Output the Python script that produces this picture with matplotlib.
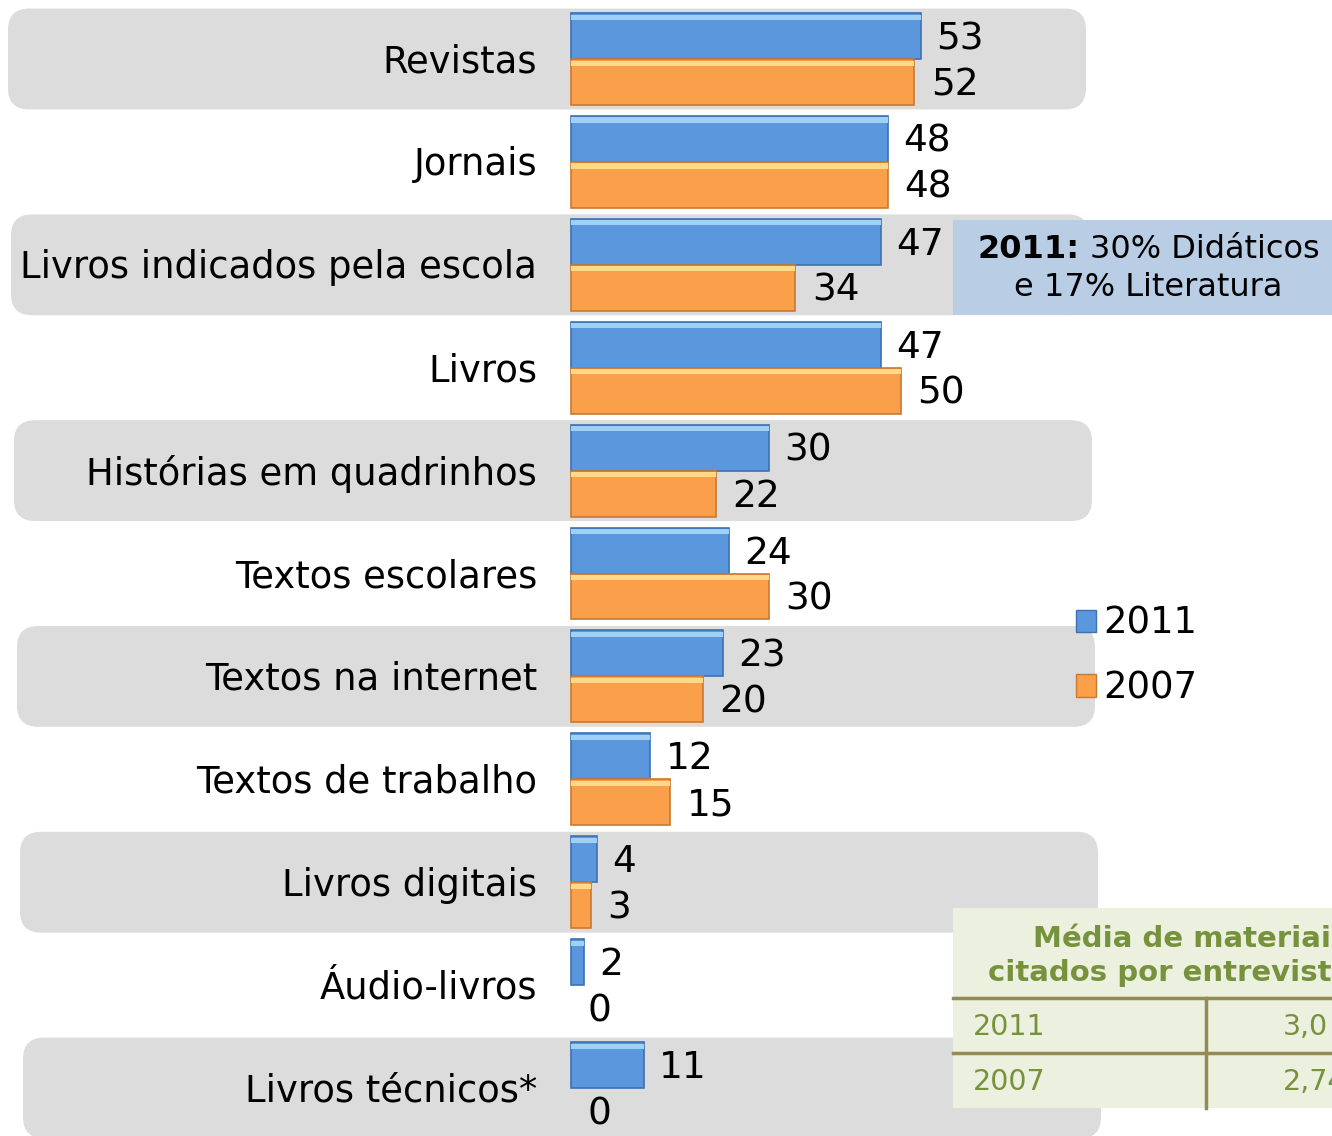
import matplotlib
matplotlib.use("Agg")
import matplotlib.pyplot as plt
from matplotlib.patches import FancyBboxPatch, Rectangle, Patch
import numpy as np

# dados
categorias = ["Revistas", "Jornais", "Livros indicados pela escola", "Livros",
              "Histórias em quadrinhos", "Textos escolares", "Textos na internet",
              "Textos de trabalho", "Livros digitais", "Áudio-livros", "Livros técnicos*"]
v2011 = [53, 48, 47, 47, 30, 24, 23, 12, 4, 2, 11]
v2007 = [52, 48, 34, 50, 22, 30, 20, 15, 3, 0, 0]
anos = ["2011", "2007"]
tabela_anos = ["2011", "2007"]
tabela_media = ["3,0", "2,74"]

# cores
azul, azul_borda, azul_luz = "#5b97dd", "#3d6fb3", "#9fd0f6"
lar, lar_borda, lar_luz = "#fa9f4a", "#c9792f", "#ffd98a"
cinza = "#dcdcdc"

W, H = 1332, 1136
fig = plt.figure(figsize=(W / 100, H / 100), dpi=100)
ax = fig.add_axes([0, 0, 1, 1])

# escala: 6.6 px por ponto, barras comecam em x=571 px
pxu = 6.6
x0 = 571
row = 102.9
ax.set_xlim(-x0 / pxu, (W - x0) / pxu)
ax.set_ylim((H - 59) / row, -59 / row)
ax.axis("off")

y = np.arange(len(categorias))
h = 0.447

# faixas cinza alternadas
for k, i in enumerate(range(0, len(categorias), 2)):
    left = (8 + 3 * k - x0) / pxu
    right = (1086 + 3 * k - x0) / pxu
    band = FancyBboxPatch((left, i - 0.49), right - left, 0.98,
                          boxstyle="round,pad=0,rounding_size=3.2",
                          mutation_aspect=pxu / row,
                          fc=cinza, ec="none", zorder=0)
    ax.add_patch(band)

# barras (sem borda quando o valor e zero)
lw1 = [1.2 if v else 0 for v in v2011]
lw2 = [1.2 if v else 0 for v in v2007]
ax.barh(y - h / 2, v2011, height=h, color=azul, edgecolor=azul_borda, linewidth=lw1, zorder=3)
ax.barh(y + h / 2, v2007, height=h, color=lar, edgecolor=lar_borda, linewidth=lw2, zorder=3)
# brilho no topo das barras
ax.barh(y - h + 0.04, v2011, height=0.05, color=azul_luz, linewidth=0, zorder=4)
ax.barh(y + 0.04, v2007, height=0.05, color=lar_luz, linewidth=0, zorder=4)

# rotulos de valor
for i in range(len(categorias)):
    ax.text(v2011[i] + 2.3, i - h / 2 + 0.03, str(v2011[i]), va="center", ha="left", fontsize=27, zorder=5)
    ax.text(v2007[i] + 2.5, i + h / 2 + 0.03, str(v2007[i]), va="center", ha="left", fontsize=27, zorder=5)

# nomes das categorias
for i, c in enumerate(categorias):
    ax.text((537 - x0) / pxu, i + 0.03, c, ha="right", va="center", fontsize=26.6, zorder=5)

# legenda
leg = ax.legend(handles=[Patch(fc=azul, ec=azul_borda), Patch(fc=lar, ec=lar_borda)],
                labels=anos, loc="upper left", bbox_to_anchor=(1061 / W, 1 - 590 / H),
                frameon=False, fontsize=26.6, handlelength=0.55, handleheight=0.55,
                handletextpad=0.2, labelspacing=0.75, borderaxespad=0)

# caixa de anotacao
ax.add_patch(Rectangle((953 / W, 1 - 315 / H), 1 - 953 / W, 95 / H, transform=ax.transAxes,
                       fc="#b9cde5", ec="none", zorder=6))
ax.text(1080 / W, 1 - 249 / H, "2011:", transform=ax.transAxes, ha="right", va="center",
        fontsize=23, fontweight="bold", zorder=7)
ax.text(1090 / W, 1 - 249 / H, "30% Didáticos", transform=ax.transAxes, ha="left", va="center",
        fontsize=23, zorder=7)
ax.text(1148 / W, 1 - 287 / H, "e 17% Literatura", transform=ax.transAxes, ha="center", va="center",
        fontsize=23, zorder=7)

# tabela de media
verde = "#76923c"
linha = "#948a54"
ax.add_patch(Rectangle((953 / W, 1 - 1108 / H), 1 - 953 / W, 200 / H, transform=ax.transAxes,
                       fc="#ebf0df", ec="none", zorder=6))
ax.text(1033 / W, 1 - 939 / H, "Média de materiais", transform=ax.transAxes, ha="left", va="center",
        fontsize=21, fontweight="bold", color=verde, zorder=7)
ax.text(988 / W, 1 - 973 / H, "citados por entrevista", transform=ax.transAxes, ha="left", va="center",
        fontsize=21, fontweight="bold", color=verde, zorder=7)
for yy in (998, 1053):
    ax.plot([953 / W, 1], [1 - yy / H] * 2, transform=ax.transAxes, color=linha, lw=2.5, zorder=7)
ax.plot([1206 / W] * 2, [1 - 998 / H, 1 - 1108 / H], transform=ax.transAxes, color=linha, lw=2.5, zorder=7)
for yy, a, m in zip((1027, 1082), tabela_anos, tabela_media):
    ax.text(973 / W, 1 - yy / H, a, transform=ax.transAxes, ha="left", va="center",
            fontsize=20.5, color=verde, zorder=7)
    ax.text(1283 / W, 1 - yy / H, m, transform=ax.transAxes, ha="left", va="center",
            fontsize=20.5, color=verde, zorder=7)

fig.savefig("out.png", dpi=100, facecolor="white")
